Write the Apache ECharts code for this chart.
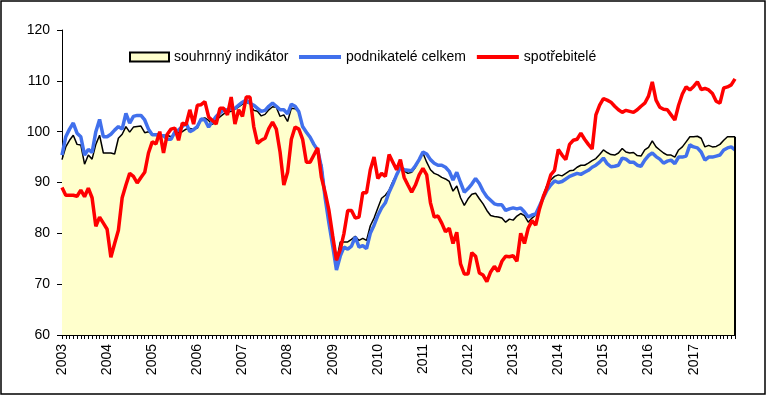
<!DOCTYPE html>
<html>
<head>
<meta charset="utf-8">
<script src="https://cdn.jsdelivr.net/npm/echarts@6/dist/echarts.min.js"></script>
<style>
html,body{margin:0;padding:0;background:#fff;}
#c{width:767px;height:396px;}
</style>
</head>
<body>
<div id="c"></div>
<script>
const years = [2003,2004,2005,2006,2007,2008,2009,2010,2011,2012,2013,2014,2015,2016,2017];
const seriesNames = ['souhrnný indikátor','podnikatelé celkem','spotřebitelé'];
const yTicks = [60,70,80,90,100,110,120];

const souhrnny = [
 94.5,97,98.3,99.3,97.5,97.4,93.6,95.4,94.6,97.5,99.3,95.8,
 95.8,95.8,95.6,98.7,99.5,101,99.9,100.9,101,101.1,99.8,100,
 99.5,99.6,99.5,99.3,99.3,99,99.6,99.8,100,100.5,100.6,100.5,
 100.7,102.5,102.7,102.2,101.4,102.3,102.9,103.5,103.8,104,104.4,104.9,
 105.4,105.8,105.5,104.2,104,103.1,103.4,104.3,104.9,104.8,103,103.3,
 102,104.6,104.5,103.9,100.8,100,99,97.4,96.2,93.6,88,84,
 78.5,74.5,78.3,78.3,78.3,78.8,79.4,78.6,79,78.6,81.5,83,
 85,86.9,87.5,88.5,90.2,91.5,92.8,92.3,91.8,92,93,94.5,
 95.8,94,92.5,91.8,91.5,91,90.7,90.2,88.3,89.3,87,85.5,
 86.8,87.7,87.9,86.8,85.8,84.5,83.5,83.3,83.2,83,82.2,82.8,
 82.6,83.4,83.9,83.5,82.2,83,83.6,84.8,87.5,89.5,90.5,91.2,
 91.5,91.3,91.8,92.3,92.4,93,93.4,93.4,93.8,94.3,94.7,95.5,
 96.4,95.9,95.5,95.4,95.8,96.7,96,95.8,95.9,95.3,95.2,96.4,
 96.9,98.2,97,96.4,95.8,95.4,95.4,95,96.4,97,98,99,
 99,99.1,98.7,97,97.3,97,97.1,97.5,98.3,99,99,99
];
const podnikatele = [
 95.4,99,100.5,101.7,99.7,99,95.4,96.5,95.9,100,102.4,99,
 99,99.5,100.3,101,100.5,103.6,101.7,103,103.2,103.2,102.3,100.5,
 99.4,99.4,99.2,99.2,98.5,98.5,99.9,100.3,101,101.7,100,100.4,
 101,102.5,102.3,100.9,102,103,103.7,104.2,104.3,104.4,104.6,105.2,
 105.8,106.2,105.6,105.2,104.6,104,104.2,105,105.6,105,104.3,104.3,
 103.5,105.4,105,103.9,101,99.9,98.9,97.5,96.4,93,86.9,82,
 77.5,72.8,75.5,77.3,76.9,77.5,79.3,77.3,77.6,77,80,81.6,
 83.5,85,86,88.1,89.7,91.5,93,92.5,92.4,92.3,93.3,94.5,
 96,95.6,94.5,93.8,93.4,93.4,93,92.2,90.5,92,90,88.1,
 88.8,89.7,90.8,89.8,88.3,87.2,86.5,85.8,85.6,85.6,84.5,84.8,
 85,84.8,85,84.2,83.2,83.6,83.8,85.4,87,88.5,89.5,90.3,
 90,90.2,90.7,91.2,91.5,91.8,91.6,92,92.4,93,93.4,94,
 94.8,93.7,93.1,93.2,93.4,94.8,94.6,94,94,93.4,93.2,94.4,
 95.3,95.8,95.1,94.6,93.8,94.2,94.4,93.7,95,95,95.2,97.4,
 97,96.8,96,94.4,95,95,95.2,95.4,96.4,96.8,97,96.4
];
const spotrebitele = [
 89,87.5,87.5,87.5,87.3,88.5,87.2,88.9,87,81.4,83.2,82,
 80.8,75.3,78,80.6,87,89.5,91.8,91.2,89.9,91,92,95.8,
 98,97.6,100,95.8,99.5,100.5,100.7,98.3,101.7,101.4,104.3,101.5,
 105.2,105.3,105.9,102.9,102.2,101.5,104.6,104.6,103.3,106.8,101.5,104.3,
 103,106.8,106.8,101,97.7,98.3,98.7,100.6,101.9,100.5,96,89.5,
 92,98.5,100.9,100.5,98.5,94,94,95.4,96.8,91,88,84.5,
 79.5,74.7,76.8,80,84.5,84.5,83,83.2,88,88,92.5,95,
 90.8,91.8,91.2,95.5,94,92.5,94.5,91,89.5,88.1,89.5,91.5,
 92.8,91.5,86,83.2,83.4,82,80.3,81,78,80.2,74,72,
 72,76.2,75.5,72.2,71.8,70.5,72.4,73.5,72.5,74.5,75.5,75.4,
 75.6,74.5,80,78,81,82.5,81.6,84.8,87.2,89,91.5,92.4,
 96.5,95.4,94.5,97.5,98.3,98.5,99.7,98.5,97.5,96.6,103.3,105.2,
 106.5,106.2,105.8,105,104.3,103.8,104.2,104,103.8,104.3,105,105.6,
 107,109.8,106.2,104.8,104.4,104.3,103.3,102.3,105.2,107.4,108.8,108.2,
 108.9,109.8,108.3,108.5,108.2,107.5,106,105.6,108.6,108.8,109.2,110.4
];

const months = [];
years.forEach(y => { for (let m = 1; m <= 12; m++) months.push(y + '-' + (m < 10 ? '0' + m : m)); });

const FONT = "'Liberation Sans', Arial, sans-serif";
const chart = echarts.init(document.getElementById('c'), null, {renderer: 'canvas'});
const lastCat = months[months.length - 1];
const lastVal = souhrnny[souhrnny.length - 1];
const legendText = {fontFamily: FONT, fontSize: 14, color: '#000'};

chart.setOption({
  animation: false,
  backgroundColor: '#fff',
  graphic: [{
    type: 'rect', silent: true, z: 100,
    shape: {x: 1, y: 1, width: 764, height: 393},
    style: {fill: 'none', stroke: '#000', lineWidth: 1.5}
  }],
  grid: {left: 62, right: 32, top: 30, bottom: 61, containLabel: false},
  legend: [
    {
      left: 124, top: 45,
      itemWidth: 39, itemHeight: 9,
      textStyle: legendText,
      data: [
        {name: seriesNames[0], icon: 'rect', itemStyle: {color: '#FFFFCC', borderColor: '#000', borderWidth: 2}}
      ]
    },
    {
      left: 294, top: 45,
      itemWidth: 42, itemHeight: 4, itemGap: 11,
      textStyle: legendText,
      data: [
        {name: seriesNames[1], icon: 'rect', itemStyle: {color: '#4170EC', borderWidth: 0}},
        {name: seriesNames[2], icon: 'rect', itemStyle: {color: '#FF0000', borderWidth: 0}}
      ]
    }
  ],
  xAxis: {
    type: 'category', data: months, boundaryGap: false,
    axisLine: {lineStyle: {color: '#000', width: 1}},
    axisTick: {show: true, interval: 0, length: 4, lineStyle: {color: '#000'}},
    axisLabel: {
      interval: (i) => i % 12 === 0,
      formatter: (v) => v.slice(0, 4),
      rotate: 90, margin: 9,
      fontFamily: FONT, fontSize: 14, color: '#000'
    },
    splitLine: {show: false}
  },
  yAxis: {
    type: 'value', min: yTicks[0], max: yTicks[yTicks.length - 1], interval: 10,
    axisLine: {show: true, lineStyle: {color: '#000', width: 1}},
    axisTick: {show: true, length: 5, lineStyle: {color: '#000'}},
    axisLabel: {margin: 12, fontFamily: FONT, fontSize: 14, color: '#000'},
    splitLine: {show: false}
  },
  series: [
    {
      name: seriesNames[0], type: 'line', data: souhrnny, symbol: 'none', z: 1,
      lineStyle: {color: '#000', width: 1.5},
      itemStyle: {color: '#FFFFCC', borderColor: '#000'},
      areaStyle: {color: '#FFFFCC', opacity: 1, origin: 'start'},
      markLine: {
        silent: true, symbol: 'none', label: {show: false},
        lineStyle: {color: '#000', width: 2, type: 'solid'},
        data: [[{coord: [lastCat, yTicks[0]]}, {coord: [lastCat, lastVal]}]]
      }
    },
    {
      name: seriesNames[1], type: 'line', data: podnikatele, symbol: 'none', z: 2,
      lineStyle: {color: '#4170EC', width: 3.5}, itemStyle: {color: '#4170EC'}
    },
    {
      name: seriesNames[2], type: 'line', data: spotrebitele, symbol: 'none', z: 3,
      lineStyle: {color: '#FF0000', width: 3.5}, itemStyle: {color: '#FF0000'}
    }
  ]
});
</script>
</body>
</html>
